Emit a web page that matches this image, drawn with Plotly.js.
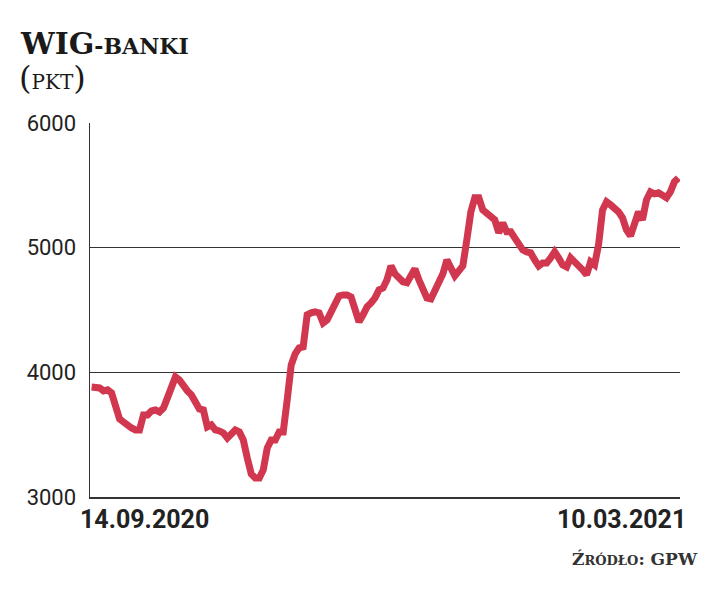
<!DOCTYPE html>
<html>
<head>
<meta charset="utf-8">
<script src="https://cdn.plot.ly/plotly-3.0.1.min.js"></script>
<style>
  html, body { margin: 0; padding: 0; background: #fff; }
  #chart { width: 720px; height: 593px; }
</style>
</head>
<body>
<div id="chart"></div>
<script>
// WIG-banki, notowania dzienne (pkt)
const wigBanki = [
  3883, 3883, 3875, 3851, 3859, 3835, 3714, 3626, 3602, 3570,
  3554, 3538, 3538, 3658, 3658, 3690, 3698, 3682, 3714, 3795,
  3891, 3963, 3939, 3883, 3851, 3819, 3762, 3706, 3698, 3562,
  3578, 3538, 3530, 3514, 3474, 3506, 3538, 3522, 3457, 3313,
  3185, 3152, 3152, 3217, 3393, 3457, 3457, 3522, 3522, 3779,
  4059, 4148, 4196, 4204, 4461, 4477, 4485, 4477, 4397, 4421,
  4485, 4565, 4613, 4621, 4621, 4605, 4485, 4405, 4461, 4525,
  4557, 4597, 4661, 4677, 4742, 4854, 4790, 4750, 4726, 4718,
  4766, 4830, 4742, 4661, 4597, 4589, 4661, 4710, 4790, 4902,
  4838, 4774, 4814, 4854, 5063, 5287, 5400, 5400, 5303, 5271,
  5255, 5223, 5119, 5199, 5127, 5127, 5079, 5031, 4982, 4966,
  4958, 4902, 4854, 4878, 4878, 4918, 4966, 4918, 4862, 4846,
  4918, 4886, 4862, 4822, 4782, 4886, 4862, 5023, 5303, 5368,
  5344, 5320, 5287, 5239, 5143, 5095, 5183, 5287, 5223, 5384,
  5448, 5432, 5440, 5424, 5400, 5448, 5528, 5560
];
const dateLabels = ["14.09.2020", "10.03.2021"];
const yTicks = [3000, 4000, 5000, 6000];

const sessions = wigBanki.map((_, i) => i);
const lastIdx = sessions.length - 1;

const lineColor = "#d1374f";
const inkColor = "#222";
const serif = "DejaVu Serif, serif";
const sans = "Roboto, DejaVu Sans Condensed, sans-serif";

const trace = {
  x: sessions,
  y: wigBanki,
  type: "scatter",
  mode: "lines",
  line: { color: lineColor, width: 7, shape: "linear" },
  hoverinfo: "y",
};

const layout = {
  width: 720,
  height: 593,
  margin: { l: 90, r: 40, t: 123, b: 96 },
  paper_bgcolor: "#fff",
  plot_bgcolor: "#fff",
  showlegend: false,
  xaxis: {
    range: [-0.4, lastIdx + 0.4],
    showgrid: false,
    zeroline: false,
    showticklabels: false,
    ticks: "",
    showline: true,
    linecolor: "#333",
    linewidth: 1.5,
  },
  yaxis: {
    range: [3000, 6000],
    tickvals: yTicks,
    ticktext: yTicks.map(String),
    showgrid: true,
    gridcolor: "#333",
    gridwidth: 1.5,
    zeroline: false,
    ticks: "",
    ticklabelstandoff: 8,
    showline: true,
    linecolor: "#333",
    linewidth: 1.5,
    tickfont: { family: sans, size: 22, color: inkColor },
  },
  annotations: [
    {
      text: "<b>WIG<span style=\"font-size:22px\">-BANKI</span></b>",
      xref: "paper", yref: "paper",
      x: -0.122, y: 1.0,
      xanchor: "left", yanchor: "bottom",
      yshift: 60,
      showarrow: false,
      font: { family: serif, size: 30, color: "#1a1a1a" },
    },
    {
      text: "(<span style=\"font-size:20px\">PKT</span>)",
      xref: "paper", yref: "paper",
      x: -0.124, y: 1.0,
      xanchor: "left", yanchor: "bottom",
      yshift: 24,
      showarrow: false,
      font: { family: serif, size: 32, color: "#1a1a1a" },
    },
    {
      text: "<b>" + dateLabels[0] + "</b>",
      xref: "paper", yref: "paper",
      x: (78 - 90) / 590, y: 0,
      xanchor: "left", yanchor: "top",
      yshift: -6,
      showarrow: false,
      font: { family: sans, size: 25, color: inkColor },
    },
    {
      text: "<b>" + dateLabels[1] + "</b>",
      xref: "paper", yref: "paper",
      x: (688 - 90) / 590, y: 0,
      xanchor: "right", yanchor: "top",
      yshift: -6,
      showarrow: false,
      font: { family: sans, size: 25, color: inkColor },
    },
    {
      text: "<b>Ź<span style=\"font-size:13px\">RÓDŁO</span>: GPW</b>",
      xref: "paper", yref: "paper",
      x: (700 - 90) / 590, y: 0,
      xanchor: "right", yanchor: "top",
      yshift: -50,
      showarrow: false,
      font: { family: serif, size: 17, color: "#333" },
    },
  ],
};

Plotly.newPlot("chart", [trace], layout, { displayModeBar: false, staticPlot: true });
</script>
</body>
</html>
